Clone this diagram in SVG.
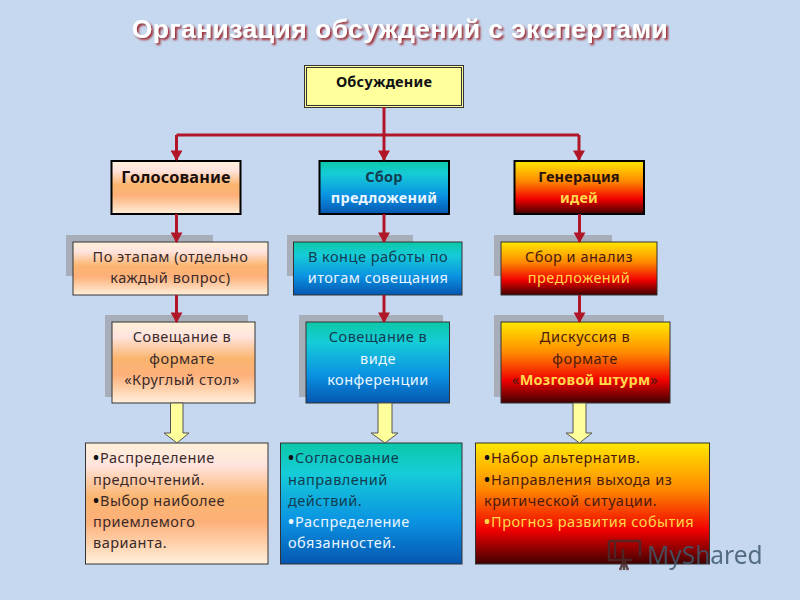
<svg xmlns="http://www.w3.org/2000/svg" width="800" height="600" viewBox="0 0 800 600">
<style>
text{font-family:"Noto Sans","Open Sans","Liberation Sans",sans-serif;font-size:14.5px;fill:#3a2a2a;letter-spacing:.5px}
.c{text-anchor:middle}
.b{font-weight:700;letter-spacing:.2px}
.w{fill:#eaf6ff}
.t{fill:#123c50}
.d{fill:#4a1a10}
.y{fill:#ffd84a}
.k{font-size:16px;font-weight:700;fill:#111;letter-spacing:0}
.kw{font-size:16px;font-weight:700;fill:#eaf6ff;letter-spacing:0}
.ky{font-size:16px;font-weight:700;fill:#ffd84a;letter-spacing:0}
.box{stroke:#333;stroke-width:1}
.hd{stroke:#000;stroke-width:2}
.sh{fill:#a8aeb9}
.peach{fill:url(#peach)}
.teal{fill:url(#teal)}
.fire{fill:url(#fire)}
.wire{fill:none;stroke:#b01628;stroke-width:3}
.blk{fill:#ffff9c;stroke:#555;stroke-width:1}
</style>
<defs>
<linearGradient id="peach" x1="0" y1="0" x2="0" y2="1"><stop offset="0" stop-color="#fff0d8"/><stop offset=".18" stop-color="#ffe4de"/><stop offset=".45" stop-color="#fbb56f"/><stop offset=".65" stop-color="#fdb079"/><stop offset="1" stop-color="#fff0dc"/></linearGradient>
<linearGradient id="teal" x1="0" y1="0" x2="0" y2="1"><stop offset="0" stop-color="#0cc8a8"/><stop offset=".25" stop-color="#16ccd8"/><stop offset=".65" stop-color="#0a92e2"/><stop offset="1" stop-color="#0556b0"/></linearGradient>
<linearGradient id="fire" x1="0" y1="0" x2="0" y2="1"><stop offset="0" stop-color="#ffe800"/><stop offset=".38" stop-color="#ff8a00"/><stop offset=".72" stop-color="#f00000"/><stop offset="1" stop-color="#400000"/></linearGradient>
<filter id="ts" x="-5%" y="-30%" width="110%" height="170%"><feDropShadow dx="2" dy="2" stdDeviation="1" flood-color="#a02a30"/></filter>
<marker id="ah" markerWidth="4" markerHeight="4" refX="3.2" refY="2" orient="auto"><path d="M0 0L3.5 2L0 4Z" fill="#b01628"/></marker>
</defs>
<rect id="bg" width="800" height="600" fill="#c6d8ef"/>
<text id="title" x="400" y="38" class="c" style="font-family:'Liberation Sans',sans-serif;font-size:26.500px;font-weight:700;fill:#fff;letter-spacing:.45px" filter="url(#ts)">Организация обсуждений с экспертами</text>

<g id="n-discussion">
<rect x="304.500" y="65.500" width="159" height="42" fill="#ffff9c" stroke="#333"/>
<rect x="306.500" y="67.500" width="155" height="38" fill="none" stroke="#333"/>
<text x="384" y="87" class="c b" style="fill:#111;font-size:14.500px">Обсуждение</text>
</g>

<g id="n-vote">
<rect class="peach hd" x="111.500" y="161" width="129" height="53"/>
<text x="176" y="183" class="c b" style="fill:#1a0d0a;font-size:16.200px">Голосование</text>
</g>
<g id="n-collect">
<rect class="teal hd" x="319.500" y="161" width="129.500" height="53"/>
<text x="384" y="182" class="c b t">Сбор</text>
<text x="384" y="203" class="c b w">предложений</text>
</g>
<g id="n-gen">
<rect class="fire hd" x="514.500" y="161" width="129.500" height="53"/>
<text x="579" y="182" class="c b" style="fill:#2a1208">Генерация</text>
<text x="579" y="203" class="c b y">идей</text>
</g>

<g id="n-stages">
<rect class="sh" x="66" y="235" width="147" height="41"/>
<rect class="peach box" x="73" y="242" width="195" height="53"/>
<text x="170.500" y="262" class="c">По этапам (отдельно</text>
<text x="170.500" y="283" class="c">каждый вопрос)</text>
</g>
<g id="n-end">
<rect class="sh" x="287" y="235" width="126" height="41"/>
<rect class="teal box" x="293.500" y="242" width="168.500" height="53"/>
<text x="378" y="262" class="c t">В конце работы по</text>
<text x="378" y="283" class="c w">итогам совещания</text>
</g>
<g id="n-analysis">
<rect class="sh" x="494" y="235" width="118" height="41"/>
<rect class="fire box" x="501" y="242" width="156" height="53"/>
<text x="579" y="262" class="c d">Сбор и анализ</text>
<text x="579" y="283" class="c y">предложений</text>
</g>

<g id="n-round">
<rect class="sh" x="105" y="315" width="143" height="82"/>
<rect class="peach box" x="112" y="322" width="143" height="81"/>
<text x="182" y="342" class="c">Совещание в</text>
<text x="182" y="364" class="c">формате</text>
<text x="182" y="385" class="c">«Круглый стол»</text>
</g>
<g id="n-conf">
<rect class="sh" x="299" y="315" width="144" height="82"/>
<rect class="teal box" x="306" y="322" width="143.500" height="81"/>
<text x="378" y="342" class="c t">Совещание в</text>
<text x="378" y="364" class="c w">виде</text>
<text x="378" y="385" class="c w">конференции</text>
</g>
<g id="n-storm">
<rect class="sh" x="494" y="315" width="170" height="82"/>
<rect class="fire box" x="501" y="322" width="169" height="81"/>
<text x="585" y="342" class="c d">Дискуссия в</text>
<text x="585" y="364" class="c d">формате</text>
<text x="585" y="385" class="c d">«<tspan class="y b">Мозговой штурм</tspan>»</text>
</g>

<g id="n-result1">
<rect class="peach box" x="85.500" y="443" width="182.500" height="121"/>
<text x="93" y="463"><tspan class="k">•</tspan><tspan dx="1">Распределение</tspan></text>
<text x="93" y="485">предпочтений.</text>
<text x="93" y="506"><tspan class="k">•</tspan><tspan dx="1">Выбор наиболее</tspan></text>
<text x="93" y="527">приемлемого</text>
<text x="93" y="548">варианта.</text>
</g>
<g id="n-result2">
<rect class="teal box" x="280.500" y="443" width="181.500" height="121"/>
<text x="288" y="463" class="t"><tspan class="k">•</tspan><tspan dx="1">Согласование</tspan></text>
<text x="288" y="485" class="t">направлений</text>
<text x="288" y="506" class="t">действий.</text>
<text x="288" y="527" class="w"><tspan class="kw">•</tspan><tspan dx="1">Распределение</tspan></text>
<text x="288" y="548" class="w">обязанностей.</text>
</g>
<g id="n-result3">
<rect class="fire box" x="475.500" y="443" width="234" height="121"/>
<text x="484" y="463" class="d"><tspan class="k">•</tspan><tspan dx="1">Набор альтернатив.</tspan></text>
<text x="484" y="485" class="d"><tspan class="k">•</tspan><tspan dx="1">Направления выхода из</tspan></text>
<text x="484" y="506" class="d">критической ситуации.</text>
<text x="484" y="527" class="y"><tspan class="ky">•</tspan><tspan dx="1">Прогноз развития события</tspan></text>
</g>

<g id="connectors">
<path class="wire" d="M384 107V135M176.500 135H579"/>
<path class="wire" marker-end="url(#ah)" d="M384 135V160"/>
<path class="wire" marker-end="url(#ah)" d="M176.500 135V160"/>
<path class="wire" marker-end="url(#ah)" d="M579 135V160"/>
<path class="wire" marker-end="url(#ah)" d="M176.500 214V242"/>
<path class="wire" marker-end="url(#ah)" d="M384 214V242"/>
<path class="wire" marker-end="url(#ah)" d="M579.500 214V242"/>
<path class="wire" marker-end="url(#ah)" d="M176.500 295V322"/>
<path class="wire" marker-end="url(#ah)" d="M384 295V322"/>
<path class="wire" marker-end="url(#ah)" d="M579.500 295V322"/>
<path class="blk" d="M170.500 403H183V433H189L177 443L164 433H170.500Z"/>
<path class="blk" d="M378 403H392V433H398L385 443L371 433H378Z"/>
<path class="blk" d="M573 403H586V433H592L579.500 443L566 433H573Z"/>
</g>

<g id="watermark" opacity=".85">
<path d="M609 541H640V556M609 541V560H632M615 541V558M623 549V560M620 570L624 560L628 570M624 560V570" fill="none" stroke="#4a2a2a" stroke-width="2.500"/>
<text x="647" y="564" style="font-size:24.500px;fill:#3f5a6c;letter-spacing:0">MyShared</text>
</g>
</svg>
